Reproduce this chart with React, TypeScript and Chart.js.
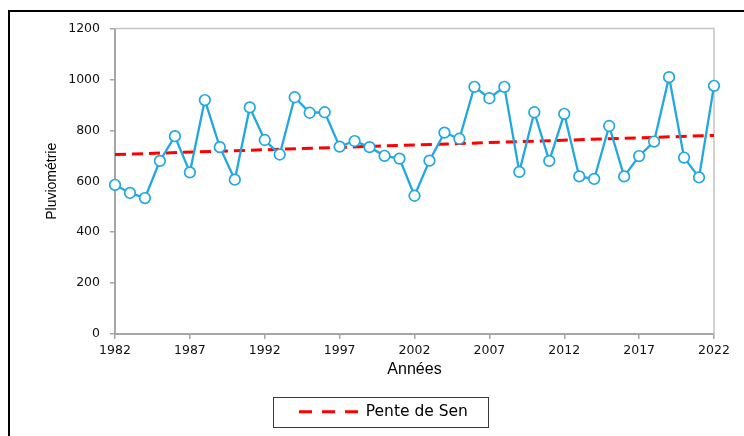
import React, { useEffect, useRef } from 'react';
import { Chart, registerables } from 'chart.js';

Chart.register(...registerables);

const years = [
  1982, 1983, 1984, 1985, 1986, 1987, 1988, 1989, 1990, 1991,
  1992, 1993, 1994, 1995, 1996, 1997, 1998, 1999, 2000, 2001,
  2002, 2003, 2004, 2005, 2006, 2007, 2008, 2009, 2010, 2011,
  2012, 2013, 2014, 2015, 2016, 2017, 2018, 2019, 2020, 2021,
  2022,
];
const rainfall = [
  586, 554, 534, 680, 777, 635, 919, 734, 606, 890,
  762, 705, 930, 869, 871, 736, 758, 734, 700, 689,
  543, 681, 791, 767, 971, 926, 971, 637, 871, 680,
  865, 619, 609, 817, 619, 699, 756, 1009, 693, 615,
  975,
];
const senYears = [1982, 2022];
const senValues = [705, 780];
const xTickYears = [1982, 1987, 1992, 1997, 2002, 2007, 2012, 2017, 2022];
const yTickValues = [0, 200, 400, 600, 800, 1000, 1200];
const seriesLabel = 'Pluviométrie';
const senLabel = 'Pente de Sen';
const xTitle = 'Années';
const yTitle = 'Pluviométrie';

export default function App() {
  const ref = useRef<HTMLCanvasElement>(null);

  useEffect(() => {
    const canvas = ref.current;
    if (!canvas) return;

    const plotFrame = {
      id: 'plotFrame',
      beforeDatasetsDraw(chart: any) {
        const { ctx, chartArea: a } = chart;
        ctx.save();
        ctx.strokeStyle = '#C4C4C4';
        ctx.lineWidth = 1.5;
        ctx.beginPath();
        ctx.moveTo(a.left, a.top);
        ctx.lineTo(a.right, a.top);
        ctx.lineTo(a.right, a.bottom);
        ctx.stroke();
        ctx.restore();
      },
    };

    const legendPlace = {
      id: 'legendPlace',
      afterLayout(chart: any) {
        const lg = chart.legend;
        if (!lg || !lg.lineWidths) return;
        const p = lg.options.labels.padding;
        const x0 = (lg.left + p + lg.right - lg.lineWidths[0]) / 2;
        const d = 299 - x0;
        lg.left += d;
        lg.right += d;
      },
      afterDraw(chart: any) {
        const lg = chart.legend;
        if (!lg || !lg.legendHitBoxes || !lg.legendHitBoxes.length) return;
        const hb = lg.legendHitBoxes[0];
        const { ctx } = chart;
        ctx.save();
        ctx.strokeStyle = '#3A3A3A';
        ctx.lineWidth = 1;
        const l = Math.round(hb.left - 26) + 0.5;
        const r = Math.round(hb.left + hb.width + 20) + 0.5;
        const t = Math.round(hb.top - 7) + 0.5;
        const b = Math.round(hb.top + hb.height + 7) + 0.5;
        ctx.strokeRect(l, t, r - l, b - t);
        ctx.restore();
      },
    };

    const chart = new Chart(canvas, {
      type: 'line',
      data: {
        datasets: [
          {
            label: seriesLabel,
            data: years.map((y, i) => ({ x: y, y: rainfall[i] })),
            borderColor: '#22A8E0',
            borderWidth: 2.3,
            pointRadius: 5.3,
            pointBorderWidth: 1.7,
            pointBorderColor: '#22A8E0',
            pointBackgroundColor: '#FFFFFF',
            fill: false,
            tension: 0,
            clip: false as any,
          },
          {
            label: senLabel,
            data: senYears.map((y, i) => ({ x: y, y: senValues[i] })),
            borderColor: '#FF0000',
            borderWidth: 3,
            borderDash: [11, 6],
            pointRadius: 0,
            fill: false,
            tension: 0,
          },
        ],
      },
      options: {
        responsive: false,
        animation: false,
        layout: { padding: { left: 0, right: 30, top: 28.5, bottom: 6.5 } },
        plugins: {
          legend: {
            position: 'bottom',
            labels: {
              filter: (it: any) => it.text === senLabel,
              usePointStyle: true,
              pointStyle: 'line',
              pointStyleWidth: 59,
              padding: 10,
              color: '#000',
              font: { family: 'DejaVu Sans', size: 15.5 },
              generateLabels: (c: any) =>
                (Chart.defaults.plugins.legend.labels.generateLabels as any)(c).map((l: any) => ({
                  ...l,
                  lineDash: [13, 10],
                  lineWidth: 3,
                  strokeStyle: '#FF0000',
                  fillStyle: '#FF0000',
                })),
            },
          },
          tooltip: { enabled: false },
        },
        scales: {
          x: {
            type: 'linear',
            min: 1982,
            max: 2022,
            afterBuildTicks: (s: any) => {
              s.ticks = xTickYears.map((v) => ({ value: v }));
            },
            afterFit: (s: any) => {
              s.height = 60;
            },
            grid: { drawOnChartArea: false, drawTicks: true, tickLength: 5, color: '#A6A6A6', lineWidth: 1.5 },
            border: { color: '#A6A6A6', width: 2 },
            ticks: {
              callback: (v: any) => String(v),
              font: { family: 'DejaVu Sans', size: 12.5 },
              color: '#111111',
              padding: 4,
              maxRotation: 0,
              autoSkip: false,
            },
            title: {
              display: true,
              text: xTitle,
              color: '#000',
              font: { family: 'Liberation Sans', size: 16 },
              padding: { top: 0, bottom: 14.4 },
            },
          },
          y: {
            type: 'linear',
            min: 0,
            max: 1200,
            afterBuildTicks: (s: any) => {
              s.ticks = yTickValues.map((v) => ({ value: v }));
            },
            afterFit: (s: any) => {
              s.width = 115;
            },
            grid: { drawOnChartArea: false, drawTicks: true, tickLength: 5, color: '#A6A6A6', lineWidth: 1.5 },
            border: { color: '#A6A6A6', width: 2 },
            ticks: {
              callback: (v: any) => String(v),
              font: { family: 'DejaVu Sans', size: 12.5 },
              color: '#111111',
              padding: 10,
            },
            title: {
              display: true,
              text: yTitle,
              color: '#000',
              font: { family: 'Liberation Sans', size: 14 },
              padding: { top: 43.6, bottom: 0 },
            },
          },
        },
      },
      plugins: [plotFrame, legendPlace],
    } as any);

    return () => chart.destroy();
  }, []);

  return (
    <div
      style={{
        position: 'fixed',
        left: 0,
        top: 0,
        width: 744,
        height: 436,
        overflow: 'hidden',
        background: '#FFFFFF',
      }}
    >
      <div
        style={{
          position: 'absolute',
          left: 8,
          top: 10,
          width: 800,
          height: 500,
          borderLeft: '2px solid #000',
          borderTop: '2px solid #000',
          boxSizing: 'border-box',
        }}
      />
      <canvas
        ref={ref}
        width={744}
        height={436}
        style={{ position: 'absolute', left: 0, top: 0, width: 744, height: 436 }}
      />
    </div>
  );
}
